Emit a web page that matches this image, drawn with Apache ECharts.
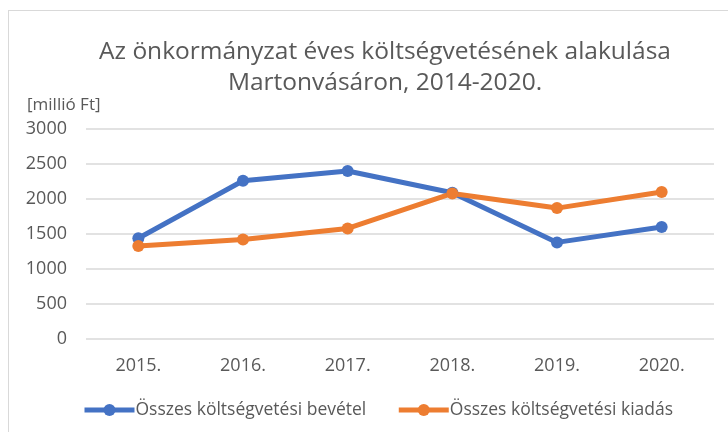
<!DOCTYPE html>
<html lang="hu">
<head>
    <meta charset="UTF-8">
    <title>Költségvetés Martonvásár</title>
    <script src="https://cdn.jsdelivr.net/npm/echarts@6/dist/echarts.min.js"></script>
    <style>
        * { box-sizing: border-box; margin: 0; padding: 0; }
        body { width: 728px; height: 432px; overflow: hidden; background: #fff; position: relative; }
        /* chart area frame: only top and left edges are visible in the source */
        .frame {
            position: absolute; left: 8px; top: 10px; width: 760px; height: 460px;
            border: 1.5px solid #d9d9d9;
        }
        #chart { position: absolute; left: 0; top: 0; width: 728px; height: 432px; }
    </style>
</head>
<body>
    <div class="frame"></div>
    <div id="chart"></div>

    <script type="text/javascript">
        // data (millió Ft)
        const years = ['2015.', '2016.', '2017.', '2018.', '2019.', '2020.'];
        const bevetel = [1440, 2260, 2400, 2090, 1380, 1600];
        const kiadas = [1330, 1420, 1580, 2080, 1870, 2100];
        const seriesNames = ['Összes költségvetési bevétel', 'Összes költségvetési kiadás'];

        const font = '"Open Sans", "Noto Sans", sans-serif';
        const textColor = '#595959';

        const myChart = echarts.init(document.getElementById('chart'));

        function lineSeries(name, data, color) {
            return {
                name: name,
                type: 'line',
                data: data,
                symbol: 'circle',
                symbolSize: 12,
                lineStyle: { width: 5, color: color },
                itemStyle: { color: color }
            };
        }

        myChart.setOption({
            animation: false,
            title: {
                text: 'Az önkormányzat éves költségvetésének alakulása\nMartonvásáron, 2014-2020.',
                left: 380,
                top: 32,
                textAlign: 'center',
                textStyle: {
                    fontFamily: font, fontSize: 24.5, fontWeight: 'normal',
                    color: textColor, lineHeight: 31
                }
            },
            grid: { left: 86, right: 14, top: 129, bottom: 93 },
            legend: {
                left: 77,
                top: 396,
                itemWidth: 50,
                itemHeight: 15,
                itemGap: 30,
                lineStyle: { width: 5 },
                textStyle: { fontFamily: font, fontSize: 17.5, color: textColor, padding: [0, 0, 0, -4] },
                data: seriesNames
            },
            xAxis: {
                type: 'category',
                data: years,
                axisLine: { show: false },
                axisTick: { show: false },
                axisLabel: { fontFamily: font, fontSize: 18, color: textColor, margin: 18 }
            },
            yAxis: {
                type: 'value',
                min: 0,
                max: 3000,
                interval: 500,
                name: '[millió Ft]',
                nameGap: 15,
                nameTextStyle: {
                    fontFamily: font, fontSize: 17, color: textColor,
                    align: 'left', padding: [0, 0, 0, -59]
                },
                axisLabel: {
                    fontFamily: font, fontSize: 18, color: textColor, margin: 19,
                    formatter: function (v) { return String(v); }
                },
                splitLine: { lineStyle: { color: '#d9d9d9', width: 1.5 } }
            },
            series: [
                lineSeries(seriesNames[0], bevetel, '#4472c4'),
                lineSeries(seriesNames[1], kiadas, '#ed7d31')
            ]
        });
    </script>
</body>
</html>
